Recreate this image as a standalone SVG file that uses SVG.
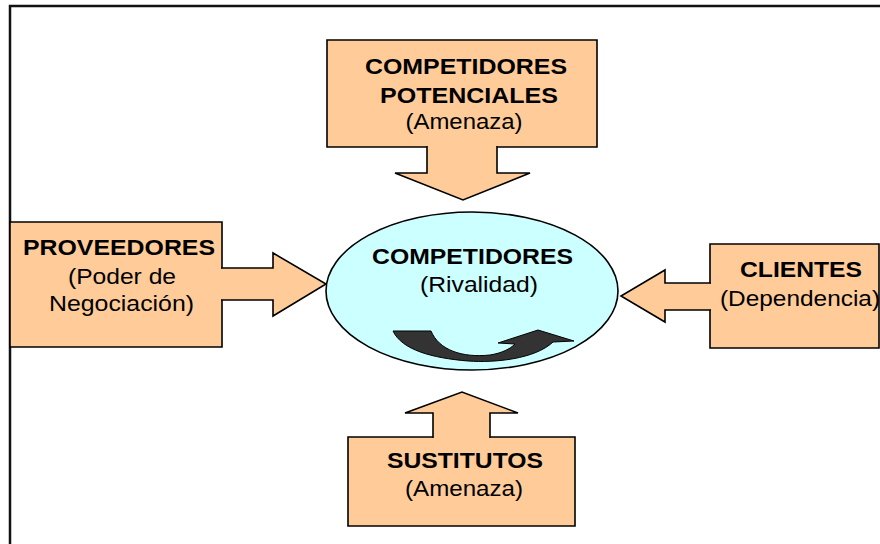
<svg xmlns="http://www.w3.org/2000/svg" width="880" height="544" viewBox="0 0 880 544">
<style>
.box{fill:#FFCC99;stroke:#000;stroke-width:1.6;stroke-linejoin:miter;stroke-linecap:square}
.arr{fill:#FFCC99;stroke:#000;stroke-width:1.6;stroke-linejoin:miter;stroke-linecap:square}
.b{font-family:"Liberation Sans",Arial,sans-serif;font-weight:bold;font-size:22px;fill:#000;text-anchor:middle}
.r{font-family:"Liberation Sans",Arial,sans-serif;font-size:22px;fill:#000;text-anchor:middle}
</style>
<rect x="0" y="0" width="880" height="544" fill="#fff"/>
<rect id="frame" x="10" y="6" width="900" height="600" fill="none" stroke="#111" stroke-width="2.5"/>
<g id="top">
<path class="box" d="M427,147 L327,147 L327,40 L597,40 L597,147 L497,147"/>
<text class="b" x="466" y="74" textLength="202" lengthAdjust="spacingAndGlyphs">COMPETIDORES</text>
<text class="b" x="469" y="103" textLength="178" lengthAdjust="spacingAndGlyphs">POTENCIALES</text>
<text class="r" x="464" y="129" textLength="117" lengthAdjust="spacingAndGlyphs">(Amenaza)</text>
</g>
<g id="left">
<path class="box" d="M222,268 L222,222 L10,222 L10,347 L222,347 L222,300"/>
<text class="b" x="119" y="255" textLength="192" lengthAdjust="spacingAndGlyphs">PROVEEDORES</text>
<text class="r" x="122" y="284" textLength="108" lengthAdjust="spacingAndGlyphs">(Poder de</text>
<text class="r" x="121.5" y="311" textLength="145" lengthAdjust="spacingAndGlyphs">Negociación)</text>
</g>
<g id="right">
<path class="box" d="M710,283 L710,244 L879,244 L879,348 L710,348 L710,310"/>
<text class="b" x="801" y="277" textLength="122" lengthAdjust="spacingAndGlyphs">CLIENTES</text>
<text class="r" x="800" y="306" textLength="160" lengthAdjust="spacingAndGlyphs">(Dependencia)</text>
</g>
<g id="bottom">
<path class="box" d="M433,437 L348,437 L348,526 L575,526 L575,437 L490,437"/>
<text class="b" x="465" y="468" textLength="156" lengthAdjust="spacingAndGlyphs">SUSTITUTOS</text>
<text class="r" x="464" y="496" textLength="118" lengthAdjust="spacingAndGlyphs">(Amenaza)</text>
</g>
<g id="connectors">
<path class="arr" d="M427,147 L427,173 L395,173 L463,200 L530,173 L497,173 L497,147"/>
<path class="arr" d="M222,268 L273,268 L273,253 L326,284 L273,316 L273,300 L222,300"/>
<path class="arr" d="M710,283 L665,283 L665,270 L621,296 L665,322 L665,310 L710,310"/>
<path class="arr" d="M433,437 L433,413 L405,413 L462,392 L518,413 L490,413 L490,437"/>
</g>
<g id="center">
<ellipse cx="472" cy="291" rx="146" ry="79" fill="#CCFFFF" stroke="#000" stroke-width="1.6"/>
<text class="b" x="472.5" y="264" textLength="201" lengthAdjust="spacingAndGlyphs">COMPETIDORES</text>
<text class="r" x="479" y="292" textLength="118" lengthAdjust="spacingAndGlyphs">(Rivalidad)</text>
<path d="M393,331 L431,331 C439,350 462,358 490,355 C502,353 510,349 515,344 L498,343 L538,330 L574,341 L553,342 C535,359 495,363 468,361 C432,358 402,350 393,331 Z" fill="#333" stroke="#000" stroke-width="1"/>
</g>
</svg>
